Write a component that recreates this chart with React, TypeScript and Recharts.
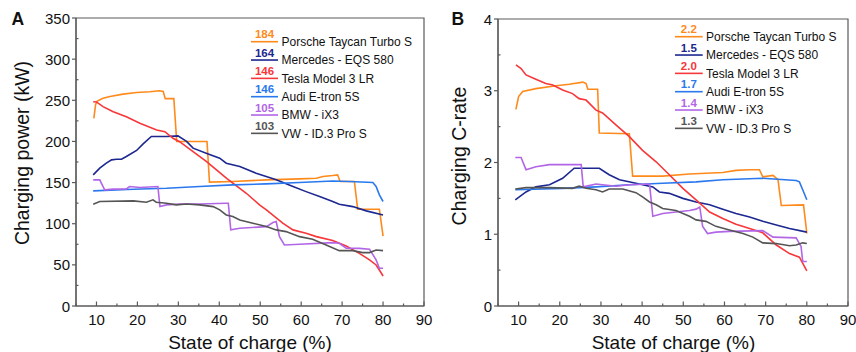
import React from 'react';
import { LineChart, Line, XAxis, YAxis, ReferenceArea } from 'recharts';

// ---------- DATA ----------
const seriesNames = ['Porsche Taycan Turbo S', 'Mercedes - EQS 580', 'Tesla Model 3 LR', 'Audi E-tron 5S', 'BMW - iX3', 'VW - ID.3 Pro S'];
const seriesColors = ['#FF8A1C', '#1C2790', '#F7373A', '#2A78EE', '#B266E6', '#555555'];
const peakPowerLabels = ['184', '164', '146', '146', '105', '103'];
const peakCrateLabels = ['2.2', '1.5', '2.0', '1.7', '1.4', '1.3'];

const xTicks = [5, 10, 15, 20, 25, 30, 35, 40, 45, 50, 55, 60, 65, 70, 75, 80, 85, 90];
const powerTicks = [0, 25, 50, 75, 100, 125, 150, 175, 200, 225, 250, 275, 300, 325, 350];
const crateTicks = [0, 0.5, 1, 1.5, 2, 2.5, 3, 3.5, 4];

// [state of charge %, charging power kW]
const porschePower = [[9.35, 228], [9.8, 245], [10.2, 249], [11.6, 252.5], [13.3, 254.7], [16.5, 257.5], [19.8, 259.5], [23, 260.3], [25.4, 261.6], [26.3, 260.7], [26.8, 252], [28.9, 252], [29.6, 200], [37, 200], [37.6, 150.5], [43.3, 151.3], [51.5, 153.3], [59.6, 154.5], [63.7, 155.3], [65.3, 157.3], [67.7, 158.6], [68.9, 159.4], [69.5, 151.3], [73, 151.3], [73.8, 117.6], [79.1, 117.6], [80, 85]];
const mercedesPower = [[9.2, 159.4], [10.8, 167.5], [12.4, 173.6], [13.7, 177.6], [14.9, 178.4], [16.1, 178.4], [17.3, 181.7], [19.8, 189], [21.4, 197], [23.4, 206], [27.1, 206], [29.9, 206.8], [32, 200], [33.6, 191.8], [36.8, 185.7], [40.1, 179.6], [41.7, 173.6], [45, 169.5], [49, 161.4], [53.9, 153.3], [58, 145.2], [61.2, 139], [64.5, 133], [67.7, 127], [69.3, 123.7], [72.6, 120.8], [75.9, 115.6], [80, 110.7]];
const teslaPower = [[9.2, 248.3], [10, 248], [11.6, 242.3], [14.1, 236], [17.3, 230], [20.6, 222], [24.7, 213.9], [26.7, 211.8], [28.7, 203.8], [30.3, 199.7], [33.6, 187.5], [36.9, 175.4], [41.8, 155.2], [46.6, 137], [49.9, 122.7], [51.5, 116.8], [55.5, 100.6], [58, 92.5], [61.2, 88.4], [63.7, 84.3], [67.7, 79.5], [71, 73], [74.2, 64], [76.7, 56], [78.3, 49.9], [79.1, 43.8], [80, 36.5]];
const audiPower = [[9.2, 139.9], [19, 141.9], [27.1, 143.1], [35.2, 145.2], [43.3, 147.2], [51.5, 148.4], [59.6, 150], [67.7, 152], [71.8, 151.3], [77.5, 150], [78.3, 145.2], [79.1, 135], [80, 127]];
const bmwPower = [[9.2, 153.3], [10.8, 153.3], [12, 141.1], [14, 142], [17.3, 142.3], [18.1, 145.2], [20.6, 144], [25, 145.2], [25.5, 121], [27.1, 122.9], [30.3, 124], [35.2, 124], [41.7, 124.9], [42.2, 124.9], [42.8, 92.5], [45, 94.5], [51.5, 96.5], [53.1, 101.4], [53.9, 102.6], [54.7, 84.3], [55.9, 74.2], [59.6, 75], [67.7, 77], [69.3, 76.2], [71, 70.2], [74.2, 70], [76.7, 69], [78.3, 56], [79.1, 45.8], [80, 45.8]];
const vwPower = [[9.2, 123.7], [10.8, 127], [19, 127.7], [22.2, 126.1], [23.8, 129], [24.6, 126.1], [27.1, 124.9], [29.5, 122.9], [32, 124], [35.2, 122.9], [38.5, 120.8], [40.1, 116.8], [41.7, 110.7], [43.3, 108.7], [45, 104.6], [48.2, 100.6], [51.5, 96.5], [53.9, 92.5], [56.3, 90.4], [59.6, 84.3], [62.8, 81.1], [66.1, 74.2], [69.3, 67.3], [72.6, 67.3], [75, 64.9], [76.7, 64.9], [78.3, 68.1], [80, 67.3]];

// [state of charge %, charging C-rate]
const porscheCrate = [[9.35, 2.74], [10, 2.92], [11, 2.99], [14.2, 3.03], [19.1, 3.07], [22.3, 3.09], [25.6, 3.12], [26.4, 3.1], [26.8, 3.02], [29.2, 3.02], [29.6, 2.41], [36.9, 2.4], [37.7, 1.81], [45, 1.81], [51.5, 1.84], [59.6, 1.86], [62.8, 1.89], [66.1, 1.9], [68.5, 1.9], [69.3, 1.8], [71.8, 1.82], [73, 1.76], [73.8, 1.4], [79.2, 1.41], [80, 1.01]];
const mercedesCrate = [[9.2, 1.48], [11.8, 1.59], [14.2, 1.66], [17.5, 1.69], [20.7, 1.78], [23.5, 1.92], [29.6, 1.92], [32, 1.83], [34.5, 1.76], [38.5, 1.71], [42.6, 1.66], [44.2, 1.59], [46.6, 1.57], [49.9, 1.5], [53.1, 1.45], [56.4, 1.41], [59.6, 1.35], [62.8, 1.29], [66.1, 1.24], [69.3, 1.18], [72.6, 1.13], [75.8, 1.08], [80, 1.03]];
const teslaCrate = [[9.35, 3.36], [10.6, 3.31], [11.8, 3.22], [14.2, 3.16], [16.6, 3.1], [18.3, 3.08], [20.7, 3.01], [23.1, 2.96], [24.7, 2.89], [26.4, 2.87], [28.8, 2.73], [30.4, 2.69], [33.7, 2.52], [36.9, 2.36], [40.1, 2.17], [43.4, 2.01], [46.6, 1.83], [49.9, 1.64], [53.1, 1.48], [56.4, 1.31], [59.6, 1.22], [62.8, 1.14], [66.1, 1.08], [69.3, 1.02], [72.6, 0.85], [75.8, 0.73], [78.2, 0.68], [80, 0.49]];
const audiCrate = [[9.2, 1.62], [20.7, 1.64], [28.8, 1.66], [36.9, 1.69], [45, 1.71], [53.1, 1.73], [59.6, 1.76], [69.3, 1.78], [77.4, 1.75], [78.2, 1.73], [79, 1.62], [80, 1.48]];
const bmwCrate = [[9.2, 2.07], [10.6, 2.07], [11.8, 1.9], [14.2, 1.94], [17.5, 1.97], [20.7, 1.97], [25.2, 1.97], [25.7, 1.66], [28.8, 1.7], [33.7, 1.67], [36.9, 1.69], [41.8, 1.7], [42.6, 1.25], [45, 1.29], [51.5, 1.33], [53.1, 1.35], [54, 1.38], [54.7, 1.11], [55.9, 1.01], [57.9, 1.03], [61.2, 1.04], [69.3, 1.05], [71.8, 0.96], [77.4, 0.95], [78.6, 0.83], [79, 0.62], [80, 0.62]];
const vwCrate = [[9.2, 1.63], [11.8, 1.65], [17.5, 1.65], [23.1, 1.64], [24.7, 1.67], [26.4, 1.64], [28.8, 1.62], [30.4, 1.59], [32, 1.63], [35.3, 1.63], [38.5, 1.58], [40.1, 1.52], [41.8, 1.45], [43.4, 1.41], [45, 1.36], [48.2, 1.33], [51.5, 1.25], [53.1, 1.2], [55.5, 1.18], [57.9, 1.11], [61.2, 1.06], [64.5, 1.01], [66.9, 0.96], [69.3, 0.88], [72.6, 0.87], [75.8, 0.84], [77.4, 0.85], [79, 0.88], [80, 0.87]];

const powerSeries = [porschePower, mercedesPower, teslaPower, audiPower, bmwPower, vwPower];
const crateSeries = [porscheCrate, mercedesCrate, teslaCrate, audiCrate, bmwCrate, vwCrate];

// ---------- STYLE ----------
const FONT = '"Liberation Sans", Arial, Helvetica, sans-serif';
const AXIS = '#5a5a5a';

const toPoints = (arr: number[][]) => arr.map(([x, y]) => ({ x, y }));

const makeXTick = () => (props: any) => {
  const { x, y, payload } = props;
  const v = payload.value;
  const major = v % 10 === 0;
  return (
    <g>
      <line x1={x} x2={x} y1={y} y2={y - (major ? 4.5 : 2.5)} stroke={AXIS} strokeWidth={1.2} />
      {major && (
        <text x={x} y={y + 19} textAnchor="middle" fontSize={15} fontFamily={FONT} fill="#111">{v}</text>
      )}
    </g>
  );
};

const makeYTick = (step: number) => (props: any) => {
  const { x, y, payload } = props;
  const v = payload.value;
  const major = Math.abs(v / step - Math.round(v / step)) < 1e-6;
  return (
    <g>
      <line x1={x} x2={major ? x - 4 : x + 2.5} y1={y} y2={y} stroke={AXIS} strokeWidth={1.2} />
      {major && (
        <text x={x - 6} y={y + 5.5} textAnchor="end" fontSize={15} fontFamily={FONT} fill="#111">{v}</text>
      )}
    </g>
  );
};

function Panel({ series, yTicks, yMax, yStep, width, yAxisWidth, top, right }: any) {
  return (
    <LineChart width={width} height={352} margin={{ top, right, bottom: 0, left: 0 }} style={{ overflow: 'visible' }}>
      <XAxis
        dataKey="x"
        type="number"
        domain={[5, 90]}
        ticks={xTicks}
        interval={0}
        height={46}
        tickSize={0}
        tickMargin={0}
        tick={makeXTick()}
        axisLine={{ stroke: AXIS, strokeWidth: 1.2 }}
        allowDataOverflow
      />
      <YAxis
        type="number"
        domain={[0, yMax]}
        ticks={yTicks}
        interval={0}
        width={yAxisWidth}
        tickSize={0}
        tickMargin={0}
        tick={makeYTick(yStep)}
        axisLine={{ stroke: AXIS, strokeWidth: 1.2 }}
        allowDataOverflow
      />
      <ReferenceArea x1={5} x2={90} y1={0} y2={yMax} fill="none" stroke={AXIS} strokeWidth={1.2} />
      {series.map((s: number[][], i: number) => (
        <Line
          key={seriesNames[i]}
          data={toPoints(s)}
          dataKey="y"
          type="linear"
          stroke={seriesColors[i]}
          strokeWidth={1.6}
          dot={false}
          activeDot={false}
          isAnimationActive={false}
        />
      ))}
    </LineChart>
  );
}

function LegendBlock({ x1, x2, tx, y0, labels }: any) {
  return (
    <g>
      {seriesNames.map((name, i) => {
        const y = y0 + i * 18.33;
        return (
          <g key={name}>
            <line x1={x1} x2={x2} y1={y} y2={y} stroke={seriesColors[i]} strokeWidth={1.6} />
            <text x={(x1 + x2) / 2} y={y - 3.5} textAnchor="middle" fontSize={11.5} fontWeight="bold" fontFamily={FONT} fill={seriesColors[i]}>{labels[i]}</text>
            <text x={tx} y={y + 4.3} fontSize={12} fontFamily={FONT} fill="#111">{name}</text>
          </g>
        );
      })}
    </g>
  );
}

export default function App() {
  return (
    <div style={{ position: 'absolute', left: 0, top: 0, width: 856, height: 352, background: '#fff', overflow: 'hidden' }}>
      <div style={{ position: 'absolute', left: 430, top: 0 }}>
        <Panel series={crateSeries} yTicks={crateTicks} yMax={4} yStep={1} width={426} yAxisWidth={68} top={19} right={8} />
      </div>
      <div style={{ position: 'absolute', left: 0, top: 0 }}>
        <Panel series={powerSeries} yTicks={powerTicks} yMax={350} yStep={50} width={446} yAxisWidth={76} top={18} right={22} />
      </div>
      <svg width={856} height={352} style={{ position: 'absolute', left: 0, top: 0, pointerEvents: 'none' }}>
        <text x={11.5} y={25} fontSize={17.5} fontWeight="bold" fontFamily={FONT} fill="#111">A</text>
        <text x={451.5} y={25} fontSize={17.5} fontWeight="bold" fontFamily={FONT} fill="#111">B</text>
        <text x={29} y={153} transform="rotate(-90 29 153)" textAnchor="middle" fontSize={19.5} fontFamily={FONT} fill="#111">Charging power (kW)</text>
        <text x={466} y={156} transform="rotate(-90 466 156)" textAnchor="middle" fontSize={19.5} fontFamily={FONT} fill="#111">Charging C-rate</text>
        <text x={250} y={349} textAnchor="middle" fontSize={19} fontFamily={FONT} fill="#111">State of charge (%)</text>
        <text x={673.5} y={349} textAnchor="middle" fontSize={19} fontFamily={FONT} fill="#111">State of charge (%)</text>
        <LegendBlock x1={251} x2={278} tx={281.5} y0={41.7} labels={peakPowerLabels} />
        <LegendBlock x1={675} x2={702.7} tx={706} y0={36.7} labels={peakCrateLabels} />
      </svg>
    </div>
  );
}
